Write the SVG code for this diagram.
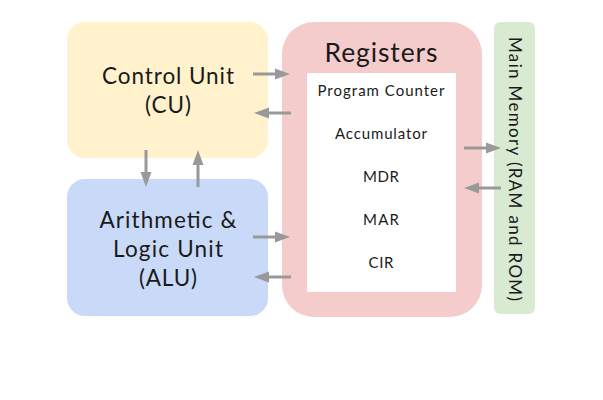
<svg xmlns="http://www.w3.org/2000/svg" width="603" height="400" viewBox="0 0 603 400">
<defs>
<style>
text{font-family:Lato,"Open Sans","Liberation Sans",sans-serif;fill:#1a1a1a;text-anchor:middle}
.big{font-size:22.5px}
.title{font-size:26.5px}
.reg{font-size:15px}
.mm{font-size:17px}
.conn line{stroke:#999999;stroke-width:3;fill:none}
</style>
<marker id="ah" markerUnits="userSpaceOnUse" markerWidth="16" markerHeight="12" refX="3" refY="6" orient="auto">
<path d="M0,0.5 L15,6 L0,11.5 z" fill="#999999"/>
</marker>
</defs>
<rect width="603" height="400" fill="#ffffff"/>
<g id="cu">
<rect x="67" y="22" width="201" height="136" rx="18" fill="#fff2cc"/>
<text class="big" x="168" y="84" textLength="132" lengthAdjust="spacing">Control Unit</text>
<text class="big" x="168" y="113" textLength="46" lengthAdjust="spacing">(CU)</text>
</g>
<g id="alu">
<rect x="67" y="179" width="201" height="137" rx="18" fill="#c9daf8"/>
<text class="big" x="168" y="228" textLength="137" lengthAdjust="spacing">Arithmetic &amp;</text>
<text class="big" x="168" y="257" textLength="110" lengthAdjust="spacing">Logic Unit</text>
<text class="big" x="168" y="286" textLength="58" lengthAdjust="spacing">(ALU)</text>
</g>
<g id="registers">
<rect x="282" y="22" width="200" height="295" rx="32" fill="#f4cccc"/>
<rect x="307" y="73" width="149" height="219" fill="#ffffff"/>
<text class="title" x="381" y="62" textLength="113" lengthAdjust="spacing">Registers</text>
<text class="reg" x="381" y="96" textLength="127" lengthAdjust="spacing">Program Counter</text>
<text class="reg" x="381" y="139" textLength="92" lengthAdjust="spacing">Accumulator</text>
<text class="reg" x="381" y="182" textLength="36" lengthAdjust="spacing">MDR</text>
<text class="reg" x="381" y="225" textLength="36" lengthAdjust="spacing">MAR</text>
<text class="reg" x="381" y="268" textLength="25" lengthAdjust="spacing">CIR</text>
</g>
<g id="main-memory">
<rect x="494" y="22" width="41" height="292" rx="6" fill="#d9ead3"/>
<text class="mm" transform="translate(509,169) rotate(90)" x="0" y="0" textLength="264" lengthAdjust="spacing">Main Memory (RAM and ROM)</text>
</g>
<g class="conn" id="connectors">
<line x1="253" y1="74" x2="278" y2="74" marker-end="url(#ah)"/>
<line x1="291" y1="113" x2="266" y2="113" marker-end="url(#ah)"/>
<line x1="146" y1="150" x2="146" y2="175" marker-end="url(#ah)"/>
<line x1="198" y1="187" x2="198" y2="162" marker-end="url(#ah)"/>
<line x1="253" y1="237" x2="278" y2="237" marker-end="url(#ah)"/>
<line x1="291" y1="277" x2="266" y2="277" marker-end="url(#ah)"/>
<line x1="464" y1="148" x2="489" y2="148" marker-end="url(#ah)"/>
<line x1="501" y1="188" x2="476" y2="188" marker-end="url(#ah)"/>
</g>
</svg>
